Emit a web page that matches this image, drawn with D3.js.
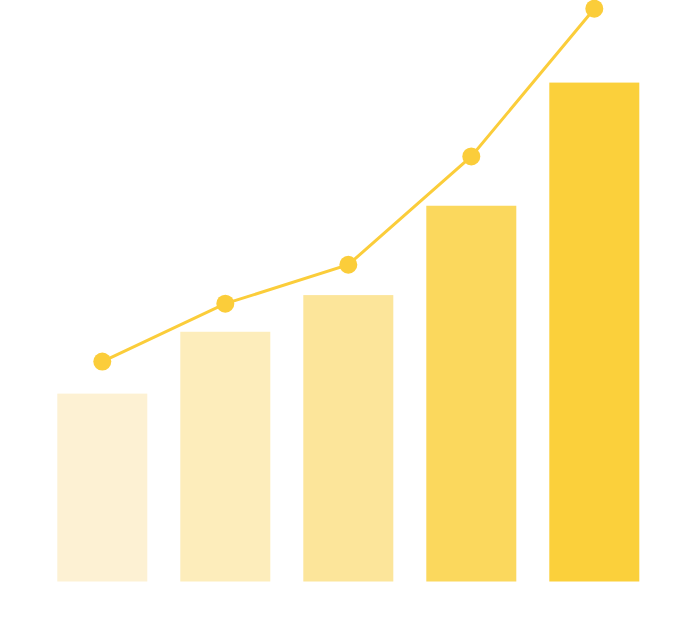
<!DOCTYPE html>
<html>
<head>
<meta charset="utf-8">
<script src="https://cdnjs.cloudflare.com/ajax/libs/d3/7.8.5/d3.min.js"></script>
<style>
  body { margin: 0; background: #fff; }
</style>
</head>
<body>
<svg id="chart" width="687" height="632"></svg>
<script>
// data
var categories = ["A", "B", "C", "D", "E"];
var barValues = [32.8, 43.6, 50.0, 65.6, 87.1];
var lineValues = [38.4, 48.5, 55.3, 74.2, 100];
var barColors = ["#fdf1d3", "#fdedbb", "#fce59a", "#fbd85d", "#fbd03b"];

var accent = "#fbcd3a";

var svg = d3.select("#chart");

// scales
var x = d3.scaleBand()
    .domain(categories)
    .range([57.3, 639.3])
    .paddingInner(33 / 123)
    .paddingOuter(0);

var y = d3.scaleLinear()
    .domain([0, 100])
    .range([581.5, 8.7]);

// bars
svg.selectAll(".bar")
    .data(barValues)
  .enter().append("rect")
    .attr("class", "bar")
    .attr("x", function(d, i) { return x(categories[i]); })
    .attr("width", x.bandwidth())
    .attr("y", function(d) { return y(d); })
    .attr("height", function(d) { return y(0) - y(d); })
    .style("fill", function(d, i) { return barColors[i]; });

// line
var line = d3.line()
    .x(function(d, i) { return x(categories[i]) + x.bandwidth() / 2; })
    .y(function(d) { return y(d); });

svg.append("path")
    .datum(lineValues)
    .attr("d", line)
    .style("fill", "none")
    .style("stroke", accent)
    .style("stroke-width", 3);

svg.selectAll(".dot")
    .data(lineValues)
  .enter().append("circle")
    .attr("class", "dot")
    .attr("cx", function(d, i) { return x(categories[i]) + x.bandwidth() / 2; })
    .attr("cy", function(d) { return y(d); })
    .attr("r", 9)
    .style("fill", accent);
</script>
</body>
</html>
